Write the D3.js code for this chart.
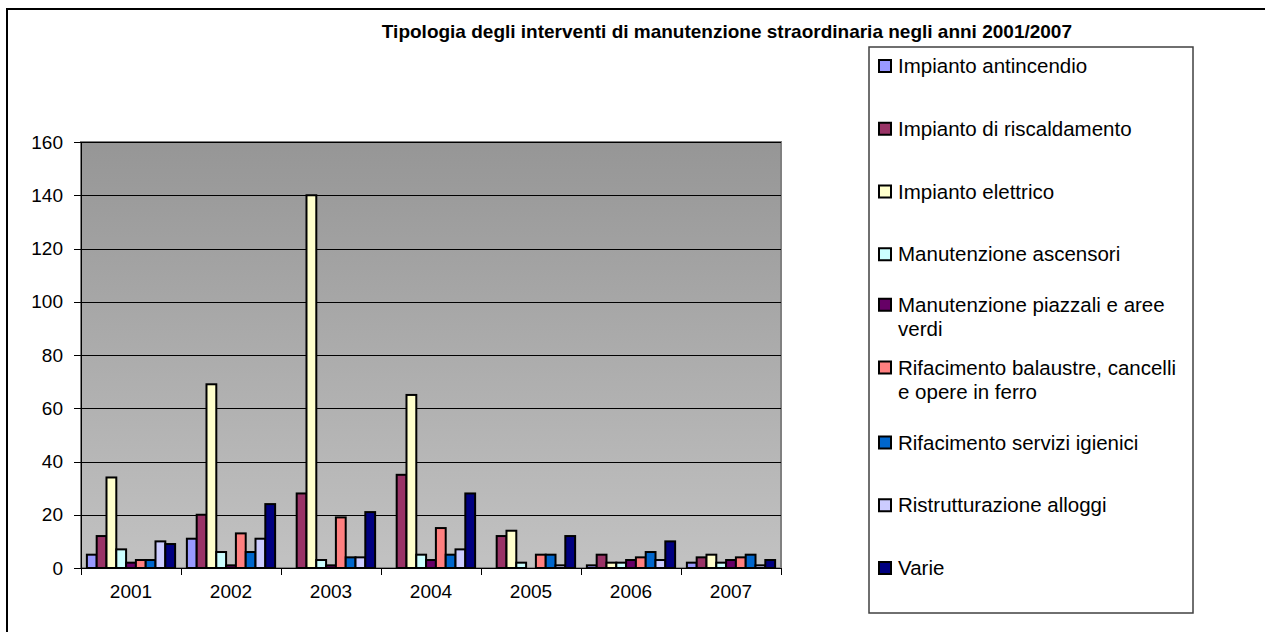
<!DOCTYPE html>
<html>
<head>
<meta charset="utf-8">
<script src="https://cdnjs.cloudflare.com/ajax/libs/d3/7.8.5/d3.min.js"></script>
<style>
    body { margin: 0; background: #ffffff; }
    svg  { display: block; font-family: "Liberation Sans", Arial, sans-serif; }
    .axis path, .axis line { stroke: #000; shape-rendering: crispEdges; }
    .axis text { font-size: 19px; fill: #000; }
    .grid line { stroke: #000; stroke-width: 1; shape-rendering: crispEdges; }
    .grid path { display: none; }
</style>
</head>
<body>
<div id="graph"></div>
<script>
// categories on the x axis
var years = ['2001', '2002', '2003', '2004', '2005', '2006', '2007'];

// legend labels (line breaks as drawn in the legend box)
var seriesNames = [
    ['Impianto antincendio'],
    ['Impianto di riscaldamento'],
    ['Impianto elettrico'],
    ['Manutenzione ascensori'],
    ['Manutenzione piazzali e aree', 'verdi'],
    ['Rifacimento balaustre, cancelli', 'e opere in ferro'],
    ['Rifacimento servizi igienici'],
    ['Ristrutturazione alloggi'],
    ['Varie']
];

var seriesColors = ['#9999FF', '#993366', '#FFFFCC', '#CCFFFF', '#660066',
                    '#FF8080', '#0066CC', '#CCCCFF', '#000080'];

// values per series, one per year 2001..2007
var antincendio   = [ 5, 11,   0,  0,  0,  1, 2];
var riscaldamento = [12, 20,  28, 35, 12,  5, 4];
var elettrico     = [34, 69, 140, 65, 14,  2, 5];
var ascensori     = [ 7,  6,   3,  5,  2,  2, 2];
var piazzali      = [ 2,  1,   1,  3,  0,  3, 3];
var balaustre     = [ 3, 13,  19, 15,  5,  4, 4];
var servizi       = [ 3,  6,   4,  5,  5,  6, 5];
var alloggi       = [10, 11,   4,  7,  1,  3, 1];
var varie         = [ 9, 24,  21, 28, 12, 10, 3];

var seriesValues = [antincendio, riscaldamento, elettrico, ascensori, piazzali,
                    balaustre, servizi, alloggi, varie];

var yTicks = [0, 20, 40, 60, 80, 100, 120, 140, 160];

var chartTitle = 'Tipologia degli interventi di manutenzione straordinaria negli anni 2001/2007';

function D3App ()
{
    var W = 1265, H = 632;

    // plot area
    var plot = { left: 81, top: 142, right: 781, bottom: 568 };

    var svg = d3.select ('#graph')
                .append ('svg')
                .attr ('width', W)
                .attr ('height', H);

    // outer chart frame (runs past the right and bottom edges)
    svg.append ('rect')
       .attr ('x', 7)
       .attr ('y', 9)
       .attr ('width', W + 20)
       .attr ('height', H + 20)
       .attr ('fill', '#fff')
       .attr ('stroke', '#000')
       .attr ('stroke-width', 2);

    // title
    svg.append ('text')
       .attr ('x', 1072)
       .attr ('y', 38)
       .attr ('text-anchor', 'end')
       .style ('font-size', '19px')
       .style ('font-weight', 'bold')
       .text (chartTitle);

    // gradient for the plot background
    var grad = svg.append ('defs')
                  .append ('linearGradient')
                  .attr ('id', 'plotGrad')
                  .attr ('x1', 0).attr ('y1', 0)
                  .attr ('x2', 0).attr ('y2', 1);
    grad.append ('stop').attr ('offset', '0%').attr ('stop-color', '#969696');
    grad.append ('stop').attr ('offset', '100%').attr ('stop-color', '#C2C2C2');

    // scales
    var x0 = d3.scaleBand ()
               .domain (years)
               .range ([plot.left, plot.right])
               .padding (0);

    var x1 = d3.scaleBand ()
               .domain (d3.range (seriesValues.length))
               .range ([0, x0.bandwidth ()])
               .paddingInner (0)
               .paddingOuter (0.6);

    var yScale = d3.scaleLinear ()
                   .domain ([0, 160])
                   .range ([plot.bottom, plot.top]);

    svg.append ('rect')
       .attr ('x', plot.left)
       .attr ('y', plot.top)
       .attr ('width', plot.right - plot.left)
       .attr ('height', plot.bottom - plot.top)
       .attr ('fill', 'url(#plotGrad)')
       .attr ('stroke', '#808080')
       .attr ('stroke-width', 2);

    // horizontal gridlines
    svg.append ('g')
       .attr ('class', 'grid')
       .attr ('transform', 'translate(' + plot.left + ',0)')
       .call (d3.axisLeft (yScale)
                .tickValues (yTicks.slice (1))
                .tickSize (-(plot.right - plot.left))
                .tickFormat (''));

    // bars
    var groups = svg.append ('g')
                    .selectAll ('g')
                    .data (seriesValues)
                    .enter ()
                    .append ('g')
                    .attr ('fill', function (d, i) { return seriesColors[i]; });

    groups.each (function (vals, si)
    {
        d3.select (this)
          .selectAll ('rect')
          .data (vals.map (function (v, yi) { return { year: years[yi], v: v }; })
                     .filter (function (d) { return d.v > 0; }))
          .enter ()
          .append ('rect')
          .attr ('x', function (d) { return x0 (d.year) + x1 (si); })
          .attr ('y', function (d) { return yScale (d.v); })
          .attr ('width', x1.bandwidth ())
          .attr ('height', function (d) { return yScale (0) - yScale (d.v); })
          .attr ('stroke', '#000')
          .attr ('stroke-width', 2);
    });

    // y axis
    var yAxis = svg.append ('g')
                   .attr ('class', 'axis')
                   .attr ('transform', 'translate(' + plot.left + ',0)')
                   .call (d3.axisLeft (yScale)
                            .tickValues (yTicks)
                            .tickSize (7)
                            .tickPadding (11)
                            .tickSizeOuter (0));
    yAxis.select ('.domain').attr ('stroke', '#404040').attr ('stroke-width', 1.5);

    // x axis: ticks at category boundaries
    var xAxis = svg.append ('g')
                   .attr ('class', 'axis')
                   .attr ('transform', 'translate(0,' + plot.bottom + ')')
                   .call (d3.axisBottom (x0)
                            .tickSize (0)
                            .tickPadding (17));
    xAxis.select ('.domain').attr ('stroke-width', 1.5);

    xAxis.selectAll ('.boundTick')
         .data (years.concat (['end']))
         .enter ()
         .append ('line')
         .attr ('x1', function (d, i) { return plot.left + i * x0.step (); })
         .attr ('x2', function (d, i) { return plot.left + i * x0.step (); })
         .attr ('y1', 0)
         .attr ('y2', 7)
         .attr ('stroke', '#000');

    //
    // legend
    //
    var legend = svg.append ('g');

    legend.append ('rect')
          .attr ('x', 869)
          .attr ('y', 47)
          .attr ('width', 324)
          .attr ('height', 566)
          .attr ('fill', '#fff')
          .attr ('stroke', '#404040')
          .attr ('stroke-width', 1.5);

    var step = 62.75;
    var lineH = 24.5;

    var items = legend.selectAll ('.item')
                      .data (seriesNames)
                      .enter ()
                      .append ('g')
                      .attr ('class', 'item')
                      .attr ('transform', function (d, i)
                      {
                          var cy = 66 + i * step - (d.length - 1) * lineH / 2;
                          return 'translate(0,' + cy + ')';
                      });

    items.append ('rect')
         .attr ('x', 879)
         .attr ('y', -6)
         .attr ('width', 12)
         .attr ('height', 12)
         .attr ('fill', function (d, i) { return seriesColors[i]; })
         .attr ('stroke', '#000')
         .attr ('stroke-width', 2);

    items.each (function (lines)
    {
        d3.select (this)
          .selectAll ('text')
          .data (lines)
          .enter ()
          .append ('text')
          .attr ('x', 898)
          .attr ('y', function (d, k) { return k * lineH; })
          .attr ('dy', '0.35em')
          .style ('font-size', '20.5px')
          .text (function (d) { return d; });
    });
}

D3App ();
</script>
</body>
</html>
